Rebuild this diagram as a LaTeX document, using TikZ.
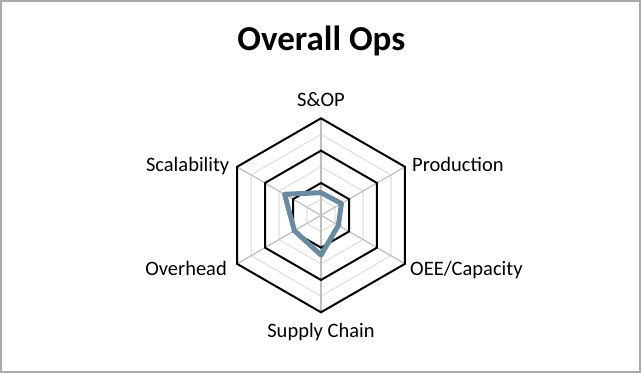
\documentclass[tikz,border=0pt]{standalone}
\usepackage{fontspec}
\setmainfont{Carlito}
\usetikzlibrary{calc}
\definecolor{frameGray}{RGB}{170,170,170}
\definecolor{spokeGray}{RGB}{190,190,190}
\definecolor{minorGray}{RGB}{225,225,225}
\definecolor{seriesBlue}{RGB}{104,139,161}
\begin{document}
% y grows downwards here, so angle -90 points up and angles run clockwise
\begin{tikzpicture}[x=1pt,y=-1pt,
  major/.style={draw=black,line width=2pt,line join=miter},
  minor/.style={draw=minorGray,line width=1.2pt},
  spoke/.style={draw=spokeGray,line width=1.2pt},
  series/.style={draw=seriesBlue,line width=5pt,line join=round},
  axislabel/.style={font=\fontsize{20.5}{24}\selectfont,inner sep=0pt},
  title/.style={font=\fontsize{35}{40}\selectfont\bfseries,inner sep=0pt}]
\useasboundingbox (0,0) rectangle (641,373);
\draw[frameGray,line width=2pt] (1,1) rectangle (640,372);

% centre of the radar and size of one unit
\coordinate (c) at (321,215.3);
\def\u{32.33}

% minor rings at 0.5, 1.5, 2.5
\foreach \r in {0.5,1.5,2.5}
  \draw[minor] ($(c)+(-90:\r*\u)$) \foreach \a in {-30,30,90,150,210} { -- ($(c)+(\a:\r*\u)$) } -- cycle;
% spokes
\foreach \a/\n in {-90/t,-30/ur,30/lr,90/b,150/ll,210/ul}
  \draw[spoke] (c) -- ($(c)+(\a:3*\u)$) coordinate (v\n);
% major rings at 1, 2, 3
\foreach \r in {1,2,3}
  \draw[major] ($(c)+(-90:\r*\u)$) \foreach \a in {-30,30,90,150,210} { -- ($(c)+(\a:\r*\u)$) } -- cycle;

% data series: S&OP, Production, OEE/Capacity, Supply Chain, Overhead, Scalability
\draw[series] ($(c)+(-90:0.70*\u)$) -- ($(c)+(-30:0.73*\u)$) -- ($(c)+(30:0.62*\u)$)
  -- ($(c)+(90:1.23*\u)$) -- ($(c)+(150:0.95*\u)$) -- ($(c)+(210:1.30*\u)$) -- cycle;

% axis labels
\node[axislabel,anchor=base] (lsop) at (321,106) {S\&OP};
\node[axislabel,anchor=base west] (lprod) at (412,171.7) {Production};
\node[axislabel,anchor=base west] (loee) at (410,275) {OEE/Capacity};
\node[axislabel,anchor=base] (lsc) at (321,337.5) {Supply Chain};
\node[axislabel,anchor=base east] (lover) at (227,275) {Overhead};
\node[axislabel,anchor=base east] (lscal) at (229.5,171.7) {Scalability};

\node[title,anchor=base] (ttl) at (321.4,50.5) {Overall Ops};
\end{tikzpicture}
\end{document}
